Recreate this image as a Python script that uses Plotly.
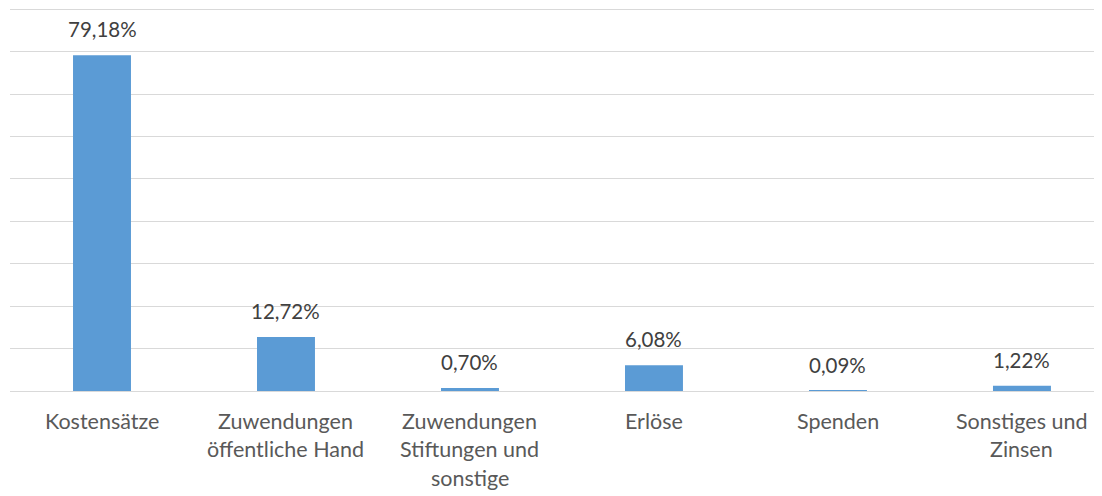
import plotly.graph_objects as go

categories = ["Kostensätze", "Zuwendungen\nöffentliche Hand", "Zuwendungen\nStiftungen und\nsonstige",
              "Erlöse", "Spenden", "Sonstiges und\nZinsen"]
values = [79.18, 12.72, 0.70, 6.08, 0.09, 1.22]

FONT = "Lato"
x = list(range(len(categories)))

fig = go.Figure()
fig.add_trace(go.Bar(
    x=x, y=values, width=0.315,
    marker=dict(color="#5B9BD5", line=dict(width=0)),
    hoverinfo="skip",
))

annotations = []
for i, v in zip(x, values):
    annotations.append(dict(
        x=i, y=v, xref="x", yref="y", text=f"{v:.2f}".replace(".", ",") + "%",
        showarrow=False, yanchor="bottom", yshift=12,
        font=dict(family=FONT, size=20.5, color="#404040"),
    ))
for i, lab in zip(x, categories):
    for k, line in enumerate(lab.split("\n")):
        annotations.append(dict(
            x=i, y=0, xref="x", yref="paper", text=line, showarrow=False,
            yanchor="middle", yshift=-29.5 - 28.5 * k,
            font=dict(family=FONT, size=21.5, color="#595959"),
        ))

fig.update_layout(
    width=1094, height=488,
    margin=dict(l=2, r=0, t=0, b=105),
    plot_bgcolor="white", paper_bgcolor="white",
    showlegend=False,
    annotations=annotations,
    xaxis=dict(range=[-0.5, 5.435], showticklabels=False, showgrid=False,
               zeroline=False, showline=False, ticks="", fixedrange=True),
    yaxis=dict(range=[0, 90.3], tick0=0, dtick=10, showticklabels=False, showgrid=True,
               gridcolor="#D9D9D9", gridwidth=1, zeroline=True, zerolinecolor="#D9D9D9",
               zerolinewidth=1, showline=False, ticks="", fixedrange=True),
    font=dict(family=FONT),
)

fig.write_html("out.html")
